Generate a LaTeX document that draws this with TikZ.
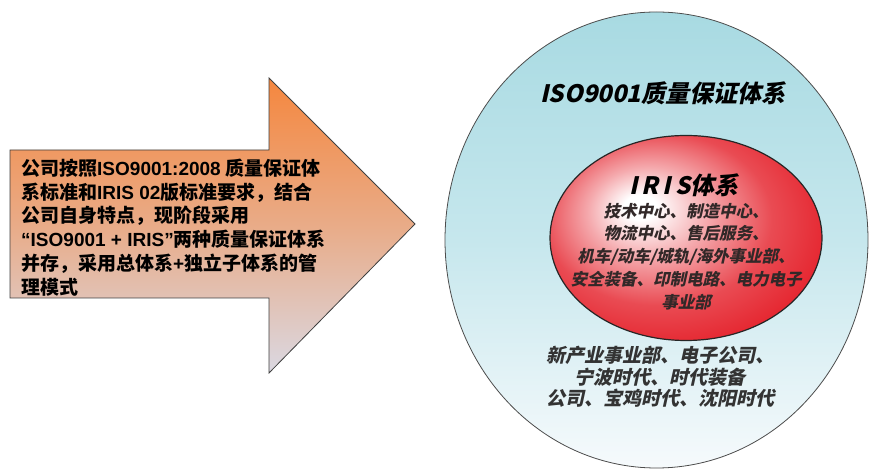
\documentclass[tikz,border=0pt]{standalone}
\usepackage{fontspec}
\newfontfamily\cjk{Noto Sans CJK SC}
\newfontfamily\lat{Liberation Sans}
\newfontfamily\cjkit[FakeSlant=0.22]{Noto Sans CJK SC}
\usetikzlibrary{shapes.geometric}
\definecolor{arrowtop}{RGB}{245,135,62}
\definecolor{arrowbot}{RGB}{218,216,226}
\definecolor{isotop}{RGB}{168,218,226}
\definecolor{isomid}{RGB}{198,231,237}
\definecolor{isobot}{RGB}{246,250,252}
\definecolor{irisred}{RGB}{228,30,40}
\definecolor{txtgrey}{RGB}{50,40,40}
\pgfdeclareradialshading{irisshade}{\pgfpoint{-9bp}{8bp}}{%
  color(0bp)=(white); color(3bp)=(white); color(11bp)=(irisred!38!white);
  color(21bp)=(irisred!80!white); color(32bp)=(irisred); color(50bp)=(irisred)}
\tikzset{
  arrowshape/.style={draw=black!75, line width=0.8pt, top color=arrowtop, bottom color=arrowbot, middle color=arrowtop!55!arrowbot},
  isoell/.style={ellipse, draw=black!70, line width=0.8pt, inner sep=0pt, top color=isotop, bottom color=isobot, middle color=isomid},
  irisell/.style={ellipse, draw=black!85, line width=1.2pt, inner sep=0pt, shading=irisshade},
  lefttext/.style={inner sep=0pt, align=left, font=\cjk\bfseries\fontsize{19}{23.8}\selectfont},
  titletext/.style={inner sep=0pt, font=\cjkit\bfseries\fontsize{24}{28}\selectfont},
  innertext/.style={inner sep=0pt, align=center, text=txtgrey, font=\cjkit\bfseries\fontsize{16.5}{22.8}\selectfont},
  outertext/.style={inner sep=0pt, align=center, text=black!80, font=\cjkit\bfseries\fontsize{19}{21.5}\selectfont},
}
\begin{document}
\begin{tikzpicture}[x=1pt,y=1pt]
\useasboundingbox (0,0) rectangle (869,470);
\fill[white] (0,0) rectangle (869,470);
% arrow
\path[arrowshape] (10,320) -- (269,320) -- (269,392) -- (415,246) -- (269,97) -- (269,172) -- (10,172) -- cycle;
\node[lefttext, anchor=west] (desc) at (21,242.5) {公司按照{\lat ISO9001:2008} 质量保证体\\系标准和{\lat IRIS 02}版标准要求，结合\\公司自身特点，现阶段采用\\{\lat “ISO9001 + IRIS”}两种质量保证体系\\并存，采用总体系{\lat +}独立子体系的管\\理模式};
% ellipses
\node[isoell, minimum width=423pt, minimum height=456pt] (iso) at (656.5,230) {};
\node[irisell, minimum width=272pt, minimum height=205pt] (iris) at (686,232) {};
\node[titletext] (isotitle) at (663,377) {ISO9001质量保证体系};
\node[titletext] (iristitle) at (684,285) {I\,R\,I\,S体系};
\node[innertext] (irislist) at (686,213.5) {技术中心、制造中心、\\物流中心、售后服务、\\机车/动车/城轨/海外事业部、\\安全装备、印制电路、电力电子\\事业部};
\node[outertext] (isolist) at (660,93) {新产业事业部、电子公司、\\宁波时代、时代装备\\公司、宝鸡时代、沈阳时代};
\end{tikzpicture}
\end{document}
